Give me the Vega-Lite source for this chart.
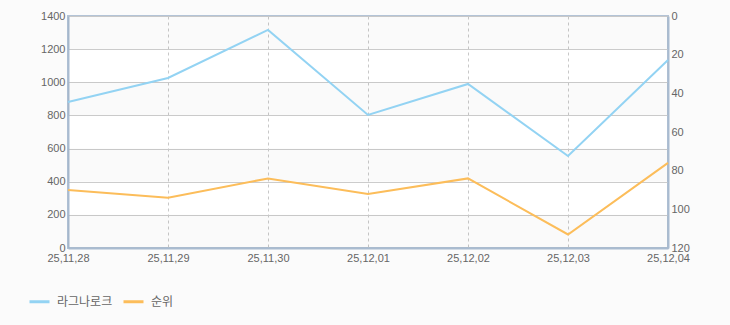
{
  "$schema": "https://vega.github.io/schema/vega-lite/v6.json",
  "width": 600,
  "height": 232,
  "autosize": "none",
  "padding": {"left": 68, "top": 16, "right": 62, "bottom": 77},
  "background": "#fbfbfb",
  "config": {
    "font": "Liberation Sans",
    "view": {"stroke": "#b3c3d6", "strokeWidth": 2, "fill": "#ffffff"},
    "axis": {"labelColor": "#666666", "labelFontSize": 11, "ticks": false, "domainColor": "#a9bbd0", "domainWidth": 2, "gridColor": "#cccccc", "title": null}
  },
  "data": {
    "values": [
      {"date": "25,11,28", "series": "라그나로크", "value": 881},
      {"date": "25,11,29", "series": "라그나로크", "value": 1026},
      {"date": "25,11,30", "series": "라그나로크", "value": 1316},
      {"date": "25,12,01", "series": "라그나로크", "value": 803},
      {"date": "25,12,02", "series": "라그나로크", "value": 990},
      {"date": "25,12,03", "series": "라그나로크", "value": 555},
      {"date": "25,12,04", "series": "라그나로크", "value": 1135},
      {"date": "25,11,28", "series": "순위", "value": 90},
      {"date": "25,11,29", "series": "순위", "value": 94},
      {"date": "25,11,30", "series": "순위", "value": 84},
      {"date": "25,12,01", "series": "순위", "value": 92},
      {"date": "25,12,02", "series": "순위", "value": 84},
      {"date": "25,12,03", "series": "순위", "value": 113},
      {"date": "25,12,04", "series": "순위", "value": 76}
    ]
  },
  "encoding": {
    "x": {
      "field": "date", "type": "ordinal",
      "scale": {"type": "point", "padding": 0},
      "axis": {"labelAngle": 0, "grid": true, "gridDash": [3, 3], "gridColor": "#c8c8c8", "labelPadding": 4}
    }
  },
  "layer": [
    {
      "layer": [
        {
          "data": {"values": [{"lo": 0, "hi": 200}, {"lo": 400, "hi": 600}, {"lo": 800, "hi": 1000}, {"lo": 1200, "hi": 1400}]},
          "mark": {"type": "rect", "color": "#000000", "opacity": 0.018},
          "encoding": {
            "x": null,
            "y": {
              "field": "lo", "type": "quantitative",
              "scale": {"domain": [0, 1400], "nice": false},
              "axis": {"values": [0, 200, 400, 600, 800, 1000, 1200, 1400], "format": "d", "labelPadding": 3, "gridColor": "#cccccc"}
            },
            "y2": {"field": "hi"}
          }
        },
        {
          "transform": [{"filter": "datum.series === '라그나로크'"}],
          "mark": {"type": "line", "strokeWidth": 2},
          "encoding": {
            "y": {
              "field": "value", "type": "quantitative",
              "scale": {"domain": [0, 1400], "nice": false},
              "axis": {"values": [0, 200, 400, 600, 800, 1000, 1200, 1400], "format": "d", "labelPadding": 3, "gridColor": "#cccccc"}
            },
            "color": {"field": "series", "type": "nominal"}
          }
        }
      ]
    },
    {
      "transform": [{"filter": "datum.series === '순위'"}],
      "mark": {"type": "line", "strokeWidth": 2},
      "encoding": {
        "y": {
          "field": "value", "type": "quantitative",
          "scale": {"domain": [0, 120], "reverse": true, "nice": false},
          "axis": {"orient": "right", "values": [0, 20, 40, 60, 80, 100, 120], "format": "d", "grid": false, "labelPadding": 3}
        },
        "color": {
          "field": "series", "type": "nominal",
          "scale": {"domain": ["라그나로크", "순위"], "range": ["#93d3f3", "#fcbd5a"]},
          "legend": {
            "orient": "none", "legendX": -40, "legendY": 274, "direction": "horizontal", "title": null,
            "symbolType": "stroke", "symbolStrokeWidth": 3, "symbolSize": 400, "labelFont": "Noto Sans CJK KR",
            "labelFontSize": 12, "labelColor": "#666666", "columnPadding": 4, "labelOffset": 6
          }
        }
      }
    }
  ],
  "resolve": {"scale": {"y": "independent"}}
}
